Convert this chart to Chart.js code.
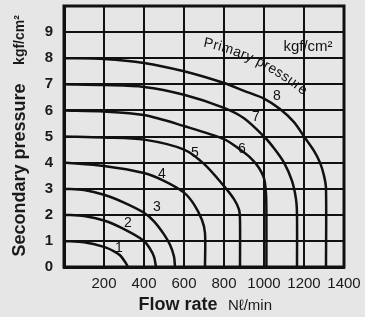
<!DOCTYPE html>
<html>
<head>
<meta charset="utf-8">
<script src="https://cdn.jsdelivr.net/npm/chart.js@4.4.1/dist/chart.umd.min.js"></script>
<style>
  html, body { margin: 0; padding: 0; background: #e6e6e6; }
  canvas { display: block; }
</style>
</head>
<body>
<canvas id="chart" width="365" height="317"></canvas>
<script>
// Secondary pressure (kgf/cm2) against flow rate (Nl/min), one curve per set pressure.
const flow1 = [0, 100, 200, 250, 280, 305, 320];
const pres1 = [1, 0.95, 0.77, 0.6, 0.45, 0.2, 0];
const flow2 = [0, 100, 200, 300, 400, 430, 450, 460];
const pres2 = [2, 1.95, 1.78, 1.45, 1.0, 0.7, 0.4, 0];
const flow3 = [0, 100, 200, 300, 400, 450, 500, 530, 550, 555];
const pres3 = [3, 2.95, 2.77, 2.47, 2.08, 1.75, 1.25, 0.85, 0.4, 0];
const flow4 = [0, 200, 400, 500, 600, 650, 690, 705, 705];
const pres4 = [4, 3.87, 3.6, 3.3, 2.85, 2.4, 1.8, 1.3, 0];
const flow5 = [0, 200, 400, 600, 700, 800, 850, 875, 880, 880];
const pres5 = [5, 4.96, 4.88, 4.5, 3.95, 3.1, 2.6, 2.2, 1.8, 0];
const flow6 = [0, 200, 400, 600, 800, 880, 930, 970, 1000, 1010, 1012, 1012];
const pres6 = [6, 5.96, 5.82, 5.4, 4.9, 4.5, 4.2, 3.85, 3.4, 2.8, 2.0, 0];
const flow7 = [0, 200, 400, 600, 800, 900, 1000, 1050, 1100, 1140, 1160, 1165, 1165];
const pres7 = [7, 6.97, 6.9, 6.6, 6.1, 5.7, 5.0, 4.55, 4.0, 3.3, 2.6, 2.0, 0];
const flow8 = [0, 200, 400, 600, 800, 900, 1000, 1080, 1150, 1200, 1250, 1280, 1300, 1310, 1310];
const pres8 = [8, 7.97, 7.82, 7.5, 7.05, 6.75, 6.45, 6.05, 5.55, 5.0, 4.45, 4.0, 3.5, 3.0, 0];

const curveFlows = [flow1, flow2, flow3, flow4, flow5, flow6, flow7, flow8];
const curvePressures = [pres1, pres2, pres3, pres4, pres5, pres6, pres7, pres8];
const curveNames = ['1', '2', '3', '4', '5', '6', '7', '8'];
// where each curve number sits (flow, pressure)
const nameFlow = [275, 320, 465, 490, 655, 890, 960, 1065];
const namePressure = [0.73, 1.69, 2.3, 3.54, 4.38, 4.5, 5.73, 6.54];

const xTicks = [0, 200, 400, 600, 800, 1000, 1200, 1400];
const yTicks = [0, 1, 2, 3, 4, 5, 6, 7, 8, 9, 10];

const datasets = curveFlows.map((fl, i) => ({
  label: curveNames[i],
  data: fl.map((x, j) => ({ x: x, y: curvePressures[i][j] })),
  borderColor: '#111',
  borderWidth: 2.5,
  pointRadius: 0,
  tension: 0.3,
  fill: false
}));

const labelsPlugin = {
  id: 'labels',
  afterDatasetsDraw(chart) {
    const ctx = chart.ctx;
    const xs = chart.scales.x, ys = chart.scales.y;
    const a = chart.chartArea;
    ctx.save();
    ctx.fillStyle = '#111';
    ctx.textAlign = 'center';
    ctx.textBaseline = 'middle';
    ctx.font = '14px "Liberation Sans", Arial, sans-serif';
    curveNames.forEach((n, i) => {
      ctx.fillText(n, xs.getPixelForValue(nameFlow[i]), ys.getPixelForValue(namePressure[i]));
    });
    ctx.font = '15px "Liberation Sans", Arial, sans-serif';
    ctx.fillText('kgf/cm²', xs.getPixelForValue(1220), ys.getPixelForValue(8.42));

    // "Primary pressure" bent along an arc
    const txt = 'Primary pressure';
    const R = 230;
    const sx = xs.getPixelForValue(695), sy = ys.getPixelForValue(8.45);
    const t0 = 12 * Math.PI / 180;
    const cx = sx - R * Math.sin(t0), cy = sy + R * Math.cos(t0);
    let phi = Math.atan2(sy - cy, sx - cx);
    ctx.font = '14px "Liberation Sans", Arial, sans-serif';
    ctx.textAlign = 'left';
    ctx.textBaseline = 'alphabetic';
    for (const ch of txt) {
      const w = ctx.measureText(ch).width + 0.4;
      ctx.save();
      ctx.translate(cx + R * Math.cos(phi), cy + R * Math.sin(phi));
      ctx.rotate(phi + Math.PI / 2);
      ctx.fillText(ch, 0, 0);
      ctx.restore();
      phi += w / R;
    }

    // frame
    ctx.strokeStyle = '#111';
    ctx.lineWidth = 3;
    ctx.strokeRect(a.left, a.top, a.right - a.left, a.bottom - a.top);

    // axis titles
    ctx.fillStyle = '#1a1a1a';
    ctx.textAlign = 'center';
    ctx.textBaseline = 'middle';
    ctx.font = 'bold 18px "Liberation Sans", Arial, sans-serif';
    ctx.fillText('Flow rate', 178, 305);
    ctx.font = '15px "Liberation Sans", Arial, sans-serif';
    ctx.fillText('Nℓ/min', 250, 306);
    ctx.save();
    ctx.translate(20, 170);
    ctx.rotate(-Math.PI / 2);
    ctx.font = 'bold 18px "Liberation Sans", Arial, sans-serif';
    ctx.fillText('Secondary pressure', 0, 0);
    ctx.restore();
    ctx.save();
    ctx.translate(20, 40);
    ctx.rotate(-Math.PI / 2);
    ctx.font = 'bold 14px "Liberation Sans", Arial, sans-serif';
    ctx.fillText('kgf/cm²', 0, 0);
    ctx.restore();
    ctx.restore();
  }
};

new Chart(document.getElementById('chart'), {
  type: 'line',
  data: { datasets: datasets },
  options: {
    responsive: false,
    animation: false,
    devicePixelRatio: 1,
    layout: { padding: { top: 6, right: 21, left: 0, bottom: 0 } },
    plugins: { legend: { display: false }, tooltip: { enabled: false } },
    scales: {
      x: {
        type: 'linear',
        min: 0,
        max: 1400,
        afterBuildTicks: s => { s.ticks = xTicks.map(v => ({ value: v })); },
        afterFit: s => { s.height = 50; s.paddingLeft = 0; s.paddingRight = 0; },
        grid: { color: '#111', lineWidth: 2, drawTicks: false },
        border: { color: '#111', width: 3 },
        ticks: {
          autoSkip: false,
          maxRotation: 0,
          padding: 8,
          color: '#1a1a1a',
          font: { family: '"Liberation Sans", Arial, sans-serif', size: 15 },
          callback: v => (v === 0 ? '' : v)
        }
      },
      y: {
        type: 'linear',
        min: 0,
        max: 10,
        afterBuildTicks: s => { s.ticks = yTicks.map(v => ({ value: v })); },
        afterFit: s => { s.width = 64; s.paddingTop = 0; s.paddingBottom = 0; },
        grid: { color: '#111', lineWidth: 2, drawTicks: false },
        border: { color: '#111', width: 3 },
        ticks: {
          autoSkip: false,
          padding: 11,
          color: '#1a1a1a',
          font: { family: '"Liberation Sans", Arial, sans-serif', size: 15, weight: 'bold' },
          callback: v => (v === 10 ? '' : v)
        }
      }
    }
  },
  plugins: [labelsPlugin]
});
</script>
</body>
</html>
